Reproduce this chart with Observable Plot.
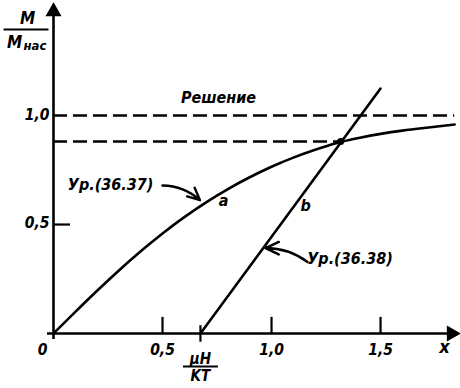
<!DOCTYPE html>
<html>
<head>
<meta charset="utf-8">
<script src="https://cdn.jsdelivr.net/npm/d3@7"></script>
<script src="https://cdn.jsdelivr.net/npm/@observablehq/plot@0.6"></script>
<style>
  html, body { margin: 0; padding: 0; background: #fff; }
  #chart svg { display: block; }
</style>
</head>
<body>
<div id="chart"></div>
<script>
// ---- data ----
const curveX = [0, 0.1, 0.2, 0.3, 0.4, 0.5, 0.6, 0.7, 0.8, 0.9, 1.0, 1.1, 1.2, 1.3, 1.4, 1.5, 1.6, 1.7, 1.84];
const curveY = [0, 0.099, 0.196, 0.289, 0.377, 0.459, 0.534, 0.602, 0.663, 0.717, 0.765, 0.807, 0.843, 0.874, 0.897, 0.916, 0.931, 0.943, 0.959];
const lineBX = [0.674, 1.5];
const lineBY = [0, 1.124];
const solutionX = [1.317];
const solutionY = [0.881];
const levelOne = [1.0];
const xTicks = [0.5, 1.0, 1.5];
const xTickLabels = ["0,5", "1,0", "1,5"];
const yTicks = [0.5];
const yTickLabels = ["0,5", "1,0"];
const yLabelValues = [0.5, 1.0];
const muHkT = [0.674];
const axisMax = {x: 1.853, y: 1.505};
const notes = [
  {text: "Решение", x: 0.757, y: 1.083},
  {text: "Ур.(36.37)", x: 0.262, y: 0.683},
  {text: "a", x: 0.78, y: 0.61},
  {text: "b", x: 1.156, y: 0.587},
  {text: "Ур.(36.38)", x: 1.36, y: 0.344}
];
const pointerA = [{x1: 0.50, y1: 0.679, x2: 0.672, y2: 0.612}];
const pointerB = [{x1: 1.165, y1: 0.328, x2: 0.972, y2: 0.392}];

const curve = curveX.map((x, i) => ({x, y: curveY[i]}));
const lineB = lineBX.map((x, i) => ({x, y: lineBY[i]}));
const solution = solutionX.map((x, i) => ({x, y: solutionY[i]}));

const FONT = "'Liberation Sans Narrow', 'DejaVu Sans Condensed', 'Liberation Sans', sans-serif";
const txt = {fontFamily: FONT, fontStyle: "italic", fontWeight: "bold", fill: "black"};
const arrowStyle = {x1: "x1", y1: "y1", x2: "x2", y2: "y2", stroke: "black", strokeWidth: 2.4, headLength: 10, headAngle: 50};

const plot = Plot.plot({
  width: 460,
  height: 388,
  marginLeft: 53,
  marginRight: 3,
  marginTop: 5,
  marginBottom: 55,
  x: {domain: [0, axisMax.x], axis: null},
  y: {domain: [0, axisMax.y], axis: null},
  style: {fontFamily: FONT, background: "white"},
  marks: [
    // dashed horizontal lines
    Plot.ruleY(levelOne, {x1: 0, x2: curveX[curveX.length - 1], stroke: "black", strokeWidth: 2.4, strokeDasharray: "14,6"}),
    Plot.ruleY(solution, {y: "y", x1: 0, x2: "x", stroke: "black", strokeWidth: 2.4, strokeDasharray: "14,6"}),
    // axes
    Plot.ruleY([0], {x1: 0, x2: axisMax.x, stroke: "black", strokeWidth: 2.6, dx: -6}),
    Plot.ruleX([0], {y1: 0, y2: axisMax.y, stroke: "black", strokeWidth: 2.6, dy: 6}),
    Plot.dot([0], {x: axisMax.x, y: 0, symbol: "triangle", r: 5, rotate: 90, fill: "black", stroke: "black", dx: -6}),
    Plot.dot([0], {x: 0, y: axisMax.y, symbol: "triangle", r: 5, fill: "black", stroke: "black", dy: 6}),
    // ticks
    Plot.ruleX(xTicks, {y1: 0, y2: 0.074, stroke: "black", strokeWidth: 2.2}),
    Plot.ruleX(muHkT, {y1: -0.04, y2: 0.036, stroke: "black", strokeWidth: 2.2}),
    Plot.ruleY(yTicks, {x1: 0, x2: 0.078, stroke: "black", strokeWidth: 2.2}),
    // tick labels
    Plot.text(xTicks, {x: d => d, y: 0, text: (d, i) => xTickLabels[i], dy: 17, fontSize: 15.5, ...txt}),
    Plot.text(["0"], {x: 0, y: 0, dx: -11, dy: 17, fontSize: 15.5, ...txt}),
    Plot.text(["x"], {x: axisMax.x, y: 0, dx: -13, dy: 14, fontSize: 18, ...txt}),
    Plot.text(yLabelValues, {x: 0, y: d => d, text: (d, i) => yTickLabels[i], textAnchor: "end", dx: -4, dy: -1, fontSize: 15.5, ...txt}),
    // muH/kT label
    Plot.text(muHkT, {x: d => d, y: 0, text: () => "μH", dy: 26, fontSize: 15, ...txt}),
    Plot.link(muHkT, {x1: d => d - 0.08, x2: d => d + 0.08, y1: 0, y2: 0, dy: 33, stroke: "black", strokeWidth: 2}),
    Plot.text(muHkT, {x: d => d, y: 0, text: () => "KT", dy: 43, fontSize: 15, ...txt}),
    // y label M / Mнас
    Plot.text(["M"], {x: 0, y: axisMax.y, dx: -26, dy: 13, fontSize: 17, ...txt}),
    Plot.link([axisMax.y], {x1: -0.229, x2: -0.023, y1: d => d, y2: d => d, dy: 24, stroke: "black", strokeWidth: 2}),
    Plot.text(["M"], {x: 0, y: axisMax.y, dx: -39, dy: 37, fontSize: 17, ...txt}),
    Plot.text(["нас"], {x: 0, y: axisMax.y, textAnchor: "start", dx: -30, dy: 40, fontSize: 13, ...txt}),
    // curve a and line b
    Plot.line(curve, {x: "x", y: "y", curve: "natural", stroke: "black", strokeWidth: 2.6}),
    Plot.line(lineB, {x: "x", y: "y", stroke: "black", strokeWidth: 2.6, strokeLinecap: "round"}),
    Plot.dot(solution, {x: "x", y: "y", r: 3.5, fill: "black"}),
    // annotations
    Plot.text(notes, {x: "x", y: "y", text: "text", fontSize: 16, ...txt}),
    Plot.arrow(pointerA, {...arrowStyle, bend: 20}),
    Plot.arrow(pointerB, {...arrowStyle, bend: -18})
  ]
});
document.getElementById("chart").append(plot);
</script>
</body>
</html>
